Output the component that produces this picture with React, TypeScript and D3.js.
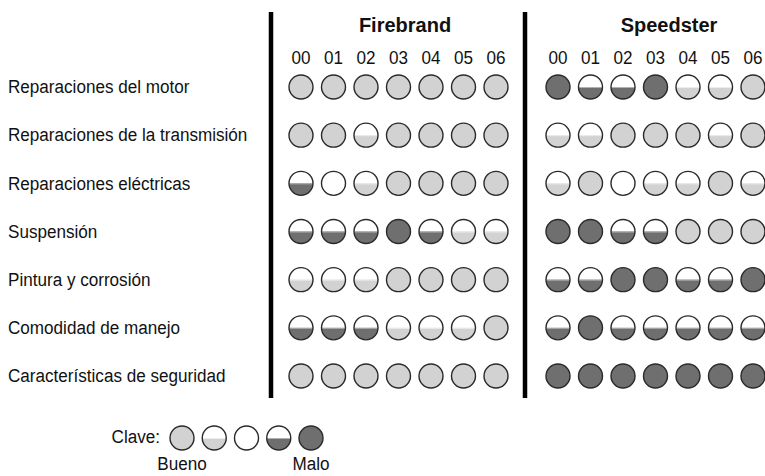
import React from "react";
import * as d3 from "d3";

const brands = ["Firebrand", "Speedster"];
const years = ["00", "01", "02", "03", "04", "05", "06"];
const categories = [
  "Reparaciones del motor",
  "Reparaciones de la transmisión",
  "Reparaciones eléctricas",
  "Suspensión",
  "Pintura y corrosión",
  "Comodidad de manejo",
  "Características de seguridad",
];
// 1 = best (full light) ... 5 = worst (full dark)
const firebrandRatings = [
  [1, 1, 1, 1, 1, 1, 1],
  [1, 1, 2, 1, 1, 1, 1],
  [4, 3, 2, 1, 1, 1, 1],
  [4, 4, 4, 5, 4, 2, 2],
  [2, 2, 2, 1, 1, 1, 1],
  [4, 4, 4, 2, 2, 2, 1],
  [1, 1, 1, 1, 1, 1, 1],
];
const speedsterRatings = [
  [5, 4, 4, 5, 2, 2, 1],
  [2, 2, 1, 1, 1, 2, 1],
  [2, 1, 3, 2, 2, 1, 2],
  [5, 5, 4, 4, 1, 1, 1],
  [4, 4, 5, 5, 4, 4, 5],
  [4, 5, 4, 4, 4, 4, 4],
  [5, 5, 5, 5, 5, 5, 5],
];
const keyLevels = [1, 2, 3, 4, 5];
const keyLabel = "Clave:";
const keyGood = "Bueno";
const keyBad = "Malo";

const W = 765;
const H = 476;
const R = 12;
const LIGHT = "#d2d2d2";
const DARK = "#6f6f6f";
const STROKE = "#2a2a2a";
const FONT = "'Liberation Sans', Arial, Helvetica, sans-serif";
const NARROW = 0.9;

const y = d3.scalePoint<string>().domain(categories).range([87, 376]);
const xScales = [
  d3.scalePoint<string>().domain(years).range([301, 496]),
  d3.scalePoint<string>().domain(years).range([558, 753]),
];
const barX = [271, 525];
const headerX = [405, 669];
const keyX = d3.scalePoint<number>().domain(keyLevels).range([182, 311]);

function Label({
  x,
  y,
  text,
  anchor = "start",
  central = false,
}: {
  x: number;
  y: number;
  text: string;
  anchor?: string;
  central?: boolean;
}) {
  return (
    <text
      transform={`translate(${x},${y}) scale(${NARROW},1)`}
      textAnchor={anchor}
      dominantBaseline={central ? "central" : "auto"}
      fontFamily={FONT}
      fontSize={19}
      fill="#111"
    >
      {text}
    </text>
  );
}

function Rating({ cx, cy, level, id }: { cx: number; cy: number; level: number; id: string }) {
  const full = level === 1 || level === 5;
  const half = level === 2 || level === 4;
  const color = level <= 2 ? LIGHT : DARK;
  const lineColor = level <= 2 ? "#ececec" : "#b0b0b0";
  return (
    <g>
      <defs>
        <clipPath id={id}>
          <circle cx={cx} cy={cy} r={R} />
        </clipPath>
      </defs>
      <circle cx={cx} cy={cy} r={R} fill={full ? color : "#fff"} />
      {half && (
        <g clipPath={`url(#${id})`}>
          <rect x={cx - R} y={cy} width={2 * R} height={R} fill={color} />
          <line x1={cx - R} x2={cx + R} y1={cy + 0.5} y2={cy + 0.5} stroke={lineColor} strokeWidth={1} />
        </g>
      )}
      <circle cx={cx} cy={cy} r={R} fill="none" stroke={STROKE} strokeWidth={1.4} />
    </g>
  );
}

export default function App() {
  const data = [firebrandRatings, speedsterRatings];
  return (
    <svg
      width={W}
      height={H}
      viewBox={`0 0 ${W} ${H}`}
      style={{ position: "absolute", left: 0, top: 0, background: "#fff" }}
    >
      {categories.map((c) => (
        <Label key={c} x={8} y={y(c) as number} text={c} central />
      ))}
      {brands.map((b, bi) => (
        <g key={b}>
          <rect x={barX[bi] - 2.25} y={12} width={4.5} height={386} fill="#000" />
          <text
            x={headerX[bi]}
            y={32}
            textAnchor="middle"
            fontFamily={FONT}
            fontWeight="bold"
            fontSize={20}
            fill="#111"
          >
            {b}
          </text>
          {years.map((yr) => (
            <Label key={yr} x={xScales[bi](yr) as number} y={63.5} text={yr} anchor="middle" />
          ))}
          {categories.map((c, ci) =>
            years.map((yr, yi) => (
              <Rating
                key={`${c}-${yr}`}
                id={`clip-${bi}-${ci}-${yi}`}
                cx={xScales[bi](yr) as number}
                cy={y(c) as number}
                level={data[bi][ci][yi]}
              />
            ))
          )}
        </g>
      ))}
      <Label x={160} y={443} text={keyLabel} anchor="end" />
      {keyLevels.map((l) => (
        <Rating key={l} id={`key-${l}`} cx={keyX(l) as number} cy={438} level={l} />
      ))}
      <Label x={keyX(1) as number} y={470} text={keyGood} anchor="middle" />
      <Label x={keyX(5) as number} y={470} text={keyBad} anchor="middle" />
    </svg>
  );
}
